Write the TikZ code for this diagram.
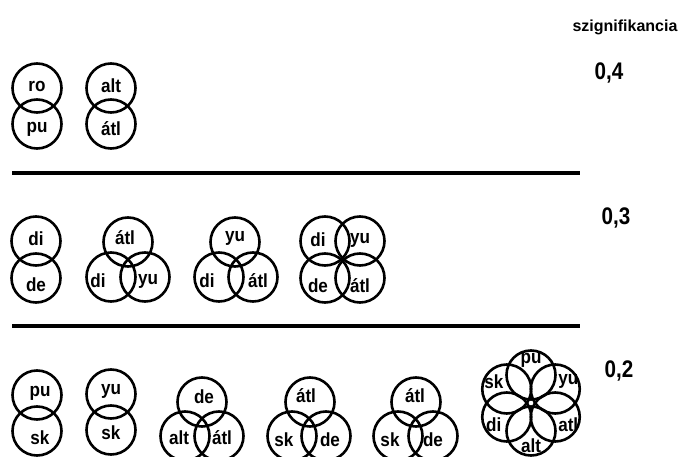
\documentclass[tikz,border=0pt]{standalone}
\usepackage{fontspec}
\setmainfont{Liberation Sans}
\newfontfamily\narrowfont{Liberation Sans}[FakeStretch=0.86]
\newfontfamily\tagfont{Liberation Sans}[FakeStretch=0.9]

\begin{document}
\begin{tikzpicture}[x=1pt, y=-1pt,
  ring/.style={circle, draw, line width=2.6pt, minimum size=49pt, inner sep=0pt},
  tag/.style={font=\tagfont\bfseries\fontsize{19}{19}\selectfont, inner sep=0pt},
  level/.style={font=\narrowfont\bfseries\fontsize{24}{24}\selectfont, inner sep=0pt},
  rule/.style={line width=4.8pt}]
\useasboundingbox (0,0) rectangle (678,457);

% row 0,4
\node[ring, label={[tag, yshift=2pt]center:ro}] (ro) at (37,88) {};
\node[ring, label={[tag, yshift=-5pt]center:pu}] (pu1) at (37,124) {};
\node[ring, label={[tag, yshift=2pt]center:alt}] (alt1) at (111,88) {};
\node[ring, label={[tag, yshift=-5pt]center:átl}] (atl1) at (111,124) {};

\coordinate (r1a) at (12,173);
\coordinate (r1b) at (580,173);
\draw[rule] (r1a) -- (r1b);

% row 0,3
\node[ring, label={[tag, yshift=2pt]center:di}] (di2) at (36,241) {};
\node[ring, label={[tag, yshift=-7pt]center:de}] (de2) at (36,278) {};

\node[ring, label={[tag, xshift=-3pt, yshift=4pt]center:átl}] (atl2t) at (128,242) {};
\node[ring, label={[tag, xshift=-13pt, yshift=-4pt]center:di}] (di2l) at (111,277) {};
\node[ring, label={[tag, xshift=3pt, yshift=-4pt]center:yu}] (yu2r) at (145,277) {};

\node[ring, label={[tag, yshift=4pt]center:yu}] (yu2t) at (235,242) {};
\node[ring, label={[tag, xshift=-12pt, yshift=-4pt]center:di}] (di2m) at (219,277) {};
\node[ring, label={[tag, xshift=5pt, yshift=-4pt]center:átl}] (atl2r) at (253,277) {};

\node[ring, label={[tag, xshift=-7pt, yshift=1pt]center:di}] (di2q) at (325,241) {};
\node[ring, label={[tag, yshift=1pt]center:yu}] (yu2q) at (360,241) {};
\node[ring, label={[tag, xshift=-7pt, yshift=-8pt]center:de}] (de2q) at (325,278) {};
\node[ring, label={[tag, yshift=-8pt]center:átl}] (atl2q) at (360,278) {};

\coordinate (r2a) at (12,326);
\coordinate (r2b) at (580,326);
\draw[rule] (r2a) -- (r2b);

% row 0,2
\node[ring, label={[tag, xshift=3pt, yshift=2pt]center:pu}] (pu3) at (37,395) {};
\node[ring, label={[tag, xshift=3pt, yshift=-7pt]center:sk}] (sk3a) at (37,431) {};
\node[ring, label={[tag, yshift=3pt]center:yu}] (yu3) at (111,394) {};
\node[ring, label={[tag, yshift=-3pt]center:sk}] (sk3b) at (111,430) {};

\node[ring, label={[tag, xshift=2pt, yshift=5pt]center:de}] (de3t) at (202,402) {};
\node[ring, label={[tag, xshift=-6pt, yshift=-2pt]center:alt}] (alt3) at (185,436) {};
\node[ring, label={[tag, xshift=3pt, yshift=-2pt]center:átl}] (atl3r) at (219,436) {};

\node[ring, label={[tag, xshift=-4pt, yshift=6pt]center:átl}] (atl3a) at (310,402) {};
\node[ring, label={[tag, xshift=-8pt, yshift=-4pt]center:sk}] (sk3c) at (292,436) {};
\node[ring, label={[tag, xshift=4pt, yshift=-4pt]center:de}] (de3a) at (326,436) {};

\node[ring, label={[tag, xshift=-1pt, yshift=6pt]center:átl}] (atl3b) at (416,402) {};
\node[ring, label={[tag, xshift=-8pt, yshift=-4pt]center:sk}] (sk3d) at (398,436) {};
\node[ring, label={[tag, yshift=-4pt]center:de}] (de3b) at (433,436) {};

% flower
\coordinate (fc) at (531,403);
\node[ring, label={[tag, shift={(90:15pt)}]center:pu}] (pu3f) at ([shift={(90:28pt)}]fc) {};
\node[ring, label={[tag, shift={(30:15pt)}]center:yu}] (yu3f) at ([shift={(30:28pt)}]fc) {};
\node[ring, label={[tag, shift={(-30:15pt)}]center:atl}] (atl3f) at ([shift={(-30:28pt)}]fc) {};
\node[ring, label={[tag, shift={(-90:15pt)}]center:alt}] (alt3f) at ([shift={(-90:28pt)}]fc) {};
\node[ring, label={[tag, shift={(210:15pt)}]center:di}] (di3f) at ([shift={(210:28pt)}]fc) {};
\node[ring, label={[tag, shift={(150:15pt)}]center:sk}] (sk3f) at ([shift={(150:28pt)}]fc) {};

% significance
\node[tag, font=\bfseries\fontsize{16}{16}\selectfont] (head) at (625,27) {szignifikancia};
\node[level] (p4) at (609,73) {0,4};
\node[level] (p3) at (616,218) {0,3};
\node[level] (p2) at (619,371) {0,2};
\end{tikzpicture}
\end{document}
